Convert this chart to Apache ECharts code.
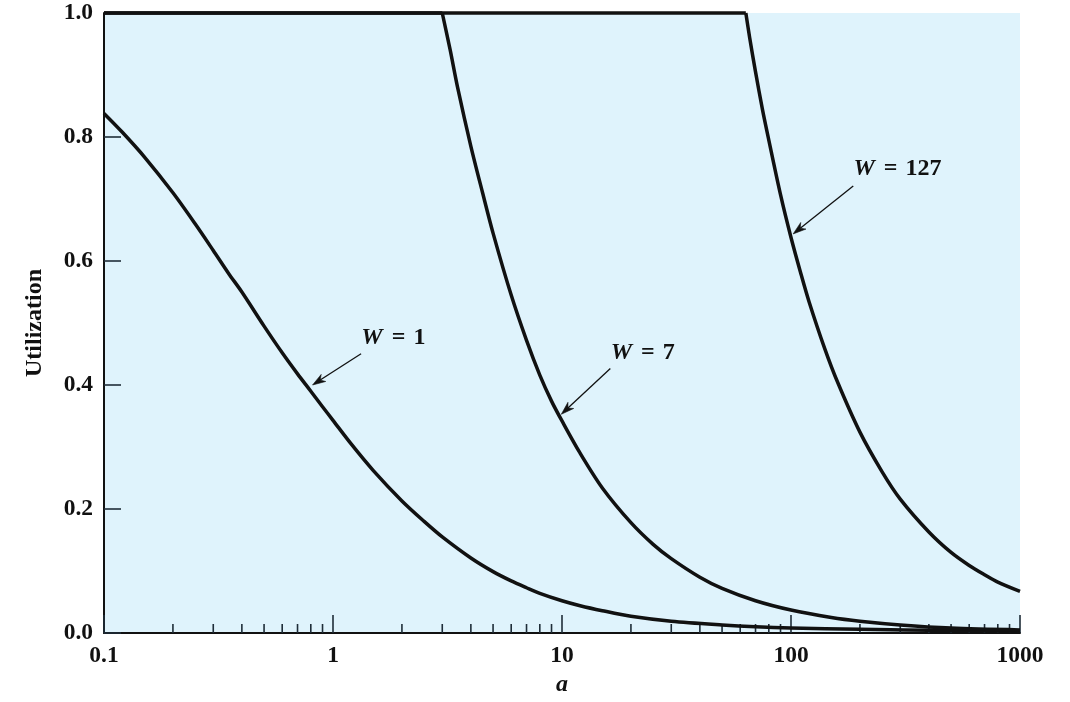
<!DOCTYPE html>
<html>
<head>
<meta charset="utf-8">
<script src="https://cdn.jsdelivr.net/npm/echarts@6/dist/echarts.min.js"></script>
<style>
html,body{margin:0;padding:0;background:#fff;}
#chart{width:1070px;height:702px;}
</style>
</head>
<body>
<div id="chart"></div>
<script>
// ---- data ----
const aW1 = [0.1, 0.12, 0.15, 0.2, 0.25, 0.3, 0.35, 0.4, 0.5, 0.6, 0.7, 0.8, 0.9, 1, 1.2, 1.5, 2, 2.5, 3, 4, 5, 6, 7, 8, 10, 12, 15, 20, 30, 50, 70, 100, 200, 500, 1000];
const uW1 = [0.838, 0.808, 0.768, 0.71, 0.66, 0.617, 0.58, 0.55, 0.495, 0.452, 0.418, 0.39, 0.365, 0.343, 0.305, 0.262, 0.213, 0.18, 0.155, 0.121, 0.099, 0.084, 0.073, 0.064, 0.052, 0.044, 0.036, 0.027, 0.019, 0.013, 0.01, 0.008, 0.006, 0.004, 0.003];

// flat part at 1.0, then falling part
const aW7Flat = [0.1, 3];
const uW7Flat = [1, 1];
const aW7 = [3, 3.25, 3.5, 4, 4.5, 5, 6, 7, 8, 9, 10, 12, 15, 20, 25, 30, 40, 50, 70, 100, 150, 200, 300, 500, 1000];
const uW7 = [1, 0.94, 0.88, 0.785, 0.71, 0.645, 0.545, 0.472, 0.416, 0.374, 0.342, 0.29, 0.234, 0.178, 0.143, 0.12, 0.09, 0.072, 0.052, 0.037, 0.025, 0.019, 0.013, 0.008, 0.005];

const aW127Flat = [0.1, 63.5];
const uW127Flat = [1, 1];
const aW127 = [63.5, 66, 70, 75, 80, 90, 100, 110, 120, 140, 160, 200, 250, 300, 400, 500, 600, 700, 800, 1000];
const uW127 = [1, 0.96, 0.905, 0.845, 0.795, 0.707, 0.638, 0.582, 0.534, 0.46, 0.404, 0.324, 0.26, 0.216, 0.163, 0.13, 0.109, 0.094, 0.082, 0.067];

const minorTicks = [0.2, 0.3, 0.4, 0.5, 0.6, 0.7, 0.8, 0.9, 2, 3, 4, 5, 6, 7, 8, 9, 20, 30, 40, 50, 60, 70, 80, 90, 200, 300, 400, 500, 600, 700, 800, 900];

// annotations: label text, label centre, arrow start, arrow tip (data coords)
const annLabels = ['1', '7', '127'];
const annLabelPos = [[1.835, 0.476], [22.5, 0.4527], [291.9, 0.748]];
const annArrowFrom = [[1.326, 0.4505], [16.26, 0.4265], [187, 0.721]];
const annArrowTo = [[0.814, 0.40], [9.93, 0.3528], [102.2, 0.6437]];

// ---- build ----
const zip = (xs, ys) => xs.map((x, i) => [x, ys[i]]);
const FONT = 'Liberation Serif';
const INK = '#111111';
const TICK = '#1f2d38';

const annData = annLabels.map((t, i) => [
  annLabelPos[i][0], annLabelPos[i][1],
  annArrowFrom[i][0], annArrowFrom[i][1],
  annArrowTo[i][0], annArrowTo[i][1], i
]);

const lineSeries = (data, smooth) => ({
  type: 'line',
  data: data,
  smooth: smooth ? 0.3 : false,
  showSymbol: false,
  symbol: 'none',
  clip: false,
  lineStyle: { color: INK, width: 3.5, cap: 'butt', join: 'round' },
  silent: true,
  animation: false,
  z: 5
});

const chart = echarts.init(document.getElementById('chart'), null, { renderer: 'canvas' });

chart.setOption({
  animation: false,
  grid: {
    left: 104, right: 50, top: 13, bottom: 65,
    show: true, backgroundColor: '#dff3fc', borderWidth: 0
  },
  xAxis: {
    type: 'log', logBase: 10, min: 0.1, max: 1000,
    name: 'a', nameLocation: 'middle', nameGap: 40,
    nameTextStyle: { fontFamily: FONT, fontWeight: 'bold', fontStyle: 'italic', fontSize: 24, color: INK },
    axisLine: { show: true, lineStyle: { color: INK, width: 2 } },
    axisTick: { show: true, inside: true, length: 18, lineStyle: { color: TICK, width: 1.6 } },
    axisLabel: {
      margin: 11, fontFamily: FONT, fontWeight: 'bold', fontSize: 23.5, color: INK,
      formatter: v => (v < 1 ? v.toFixed(1) : String(Math.round(v)))
    },
    splitLine: { show: false }
  },
  yAxis: {
    type: 'value', min: 0, max: 1, interval: 0.2,
    name: 'Utilization', nameLocation: 'middle', nameGap: 57, nameRotate: 90,
    nameTextStyle: { fontFamily: FONT, fontWeight: 'bold', fontSize: 24, color: INK },
    axisLine: { show: true, lineStyle: { color: INK, width: 2 } },
    axisTick: { show: true, inside: true, length: 17, lineStyle: { color: TICK, width: 1.6 } },
    axisLabel: {
      margin: 11, fontFamily: FONT, fontWeight: 'bold', fontSize: 23.5, color: INK,
      formatter: v => v.toFixed(1)
    },
    splitLine: { show: false }
  },
  series: [
    lineSeries(zip(aW1, uW1), true),
    lineSeries(zip(aW7Flat, uW7Flat), false),
    lineSeries(zip(aW7, uW7), true),
    lineSeries(zip(aW127Flat, uW127Flat), false),
    lineSeries(zip(aW127, uW127), true),
    {
      type: 'custom',
      silent: true,
      animation: false,
      data: minorTicks.map(v => [v, 0]),
      renderItem: function (params, api) {
        const p = api.coord([api.value(0), 0]);
        return {
          type: 'line',
          shape: { x1: p[0], y1: p[1], x2: p[0], y2: p[1] - 9 },
          style: { stroke: TICK, lineWidth: 1.6 }
        };
      },
      z: 4
    },
    {
      type: 'custom',
      silent: true,
      animation: false,
      clip: false,
      data: annData,
      renderItem: function (params, api) {
        const lp = api.coord([api.value(0), api.value(1)]);
        const s = api.coord([api.value(2), api.value(3)]);
        const e = api.coord([api.value(4), api.value(5)]);
        const idx = api.value(6);
        let dx = e[0] - s[0], dy = e[1] - s[1];
        const len = Math.sqrt(dx * dx + dy * dy);
        dx /= len; dy /= len;
        const nx = -dy, ny = dx;
        const L = 13, W = 4.2;
        const base = [e[0] - dx * L, e[1] - dy * L];
        const notch = [e[0] - dx * L * 0.7, e[1] - dy * L * 0.7];
        return {
          type: 'group',
          children: [
            {
              type: 'line',
              shape: { x1: s[0], y1: s[1], x2: notch[0], y2: notch[1] },
              style: { stroke: INK, lineWidth: 1.3 }
            },
            {
              type: 'polygon',
              shape: {
                points: [
                  [e[0], e[1]],
                  [base[0] + nx * W, base[1] + ny * W],
                  notch,
                  [base[0] - nx * W, base[1] - ny * W]
                ]
              },
              style: { fill: INK, stroke: INK, lineWidth: 0.6 }
            },
            {
              type: 'text',
              x: lp[0], y: lp[1],
              style: {
                text: '{w|W}{e|=}{t|' + annLabels[idx] + '}',
                align: 'center', verticalAlign: 'middle',
                rich: {
                  w: { fontFamily: FONT, fontWeight: 'bold', fontStyle: 'italic', fontSize: 24, fill: INK },
                  e: { fontFamily: FONT, fontWeight: 'bold', fontSize: 24, fill: INK, padding: [0, 8, 0, 9] },
                  t: { fontFamily: FONT, fontWeight: 'bold', fontSize: 24, fill: INK }
                }
              }
            }
          ]
        };
      },
      z: 6
    }
  ]
});
</script>
</body>
</html>
